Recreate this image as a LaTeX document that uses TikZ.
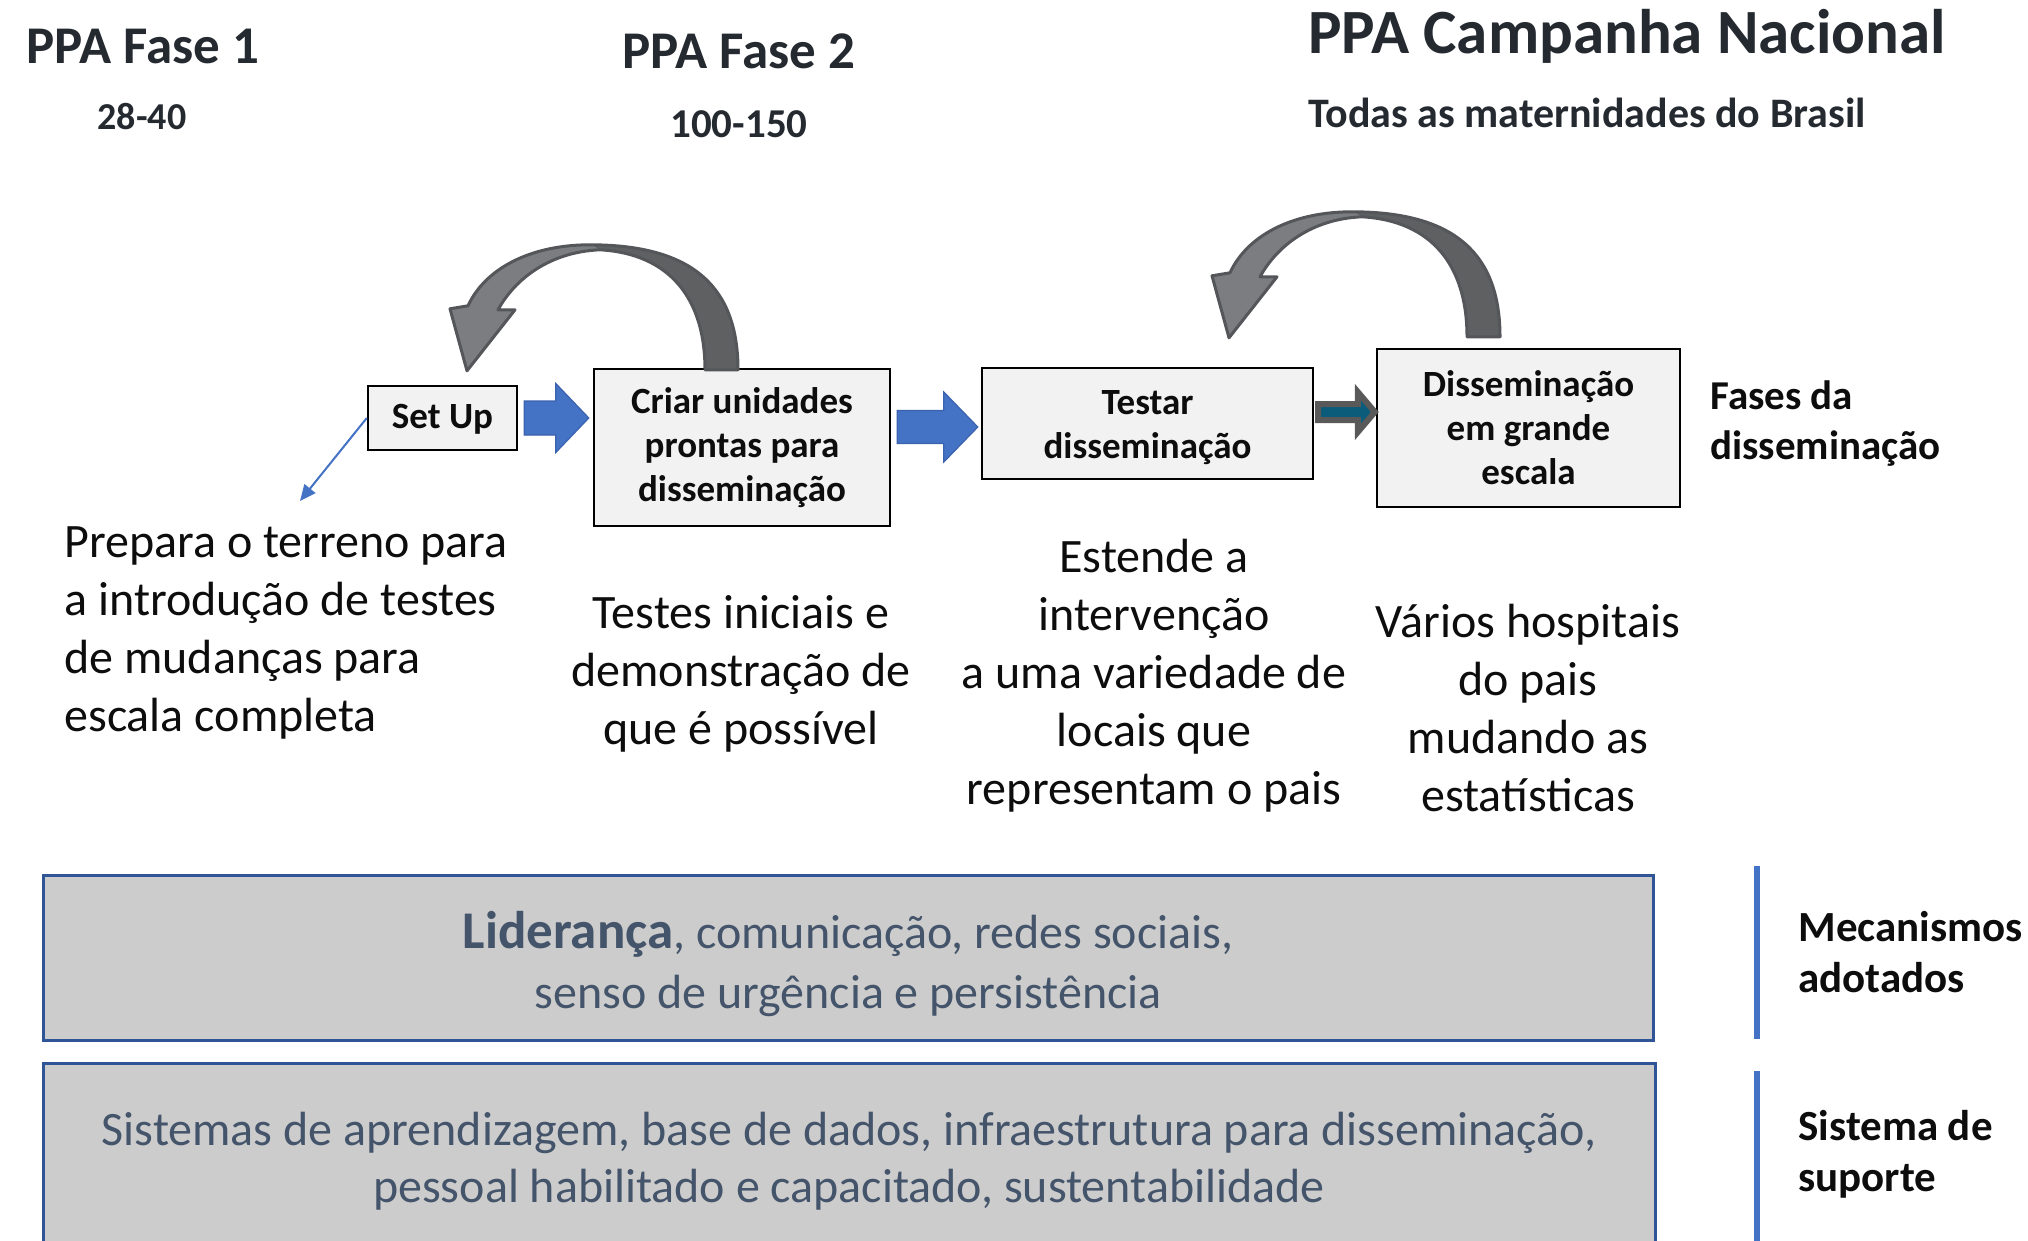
\documentclass[tikz,border=0pt]{standalone}
\usepackage{fontspec}
\setmainfont{Carlito}
\usetikzlibrary{calc,arrows.meta}
\definecolor{boxfill}{HTML}{F2F2F2}
\definecolor{hdr}{HTML}{252A31}
\definecolor{bodyc}{HTML}{0D0D0D}
\definecolor{blueA}{HTML}{4472C4}
\definecolor{blueB}{HTML}{2F5597}
\definecolor{blueC}{HTML}{3A62AE}
\definecolor{grayfill}{HTML}{CCCCCC}
\definecolor{graytext}{HTML}{44546A}
\definecolor{tealA}{HTML}{0A5C7A}
\definecolor{tealline}{HTML}{595959}
\definecolor{cdark}{HTML}{5F6062}
\definecolor{clight}{HTML}{7C7D80}
\definecolor{cline}{HTML}{55565A}
\newcommand\blkarrow[6]{%
  \path[#6] ($(#1)+(0,-#3)$) -- ($(#2)+(-#5,-#3)$) -- ($(#2)+(-#5,-#4)$) -- (#2)
    -- ($(#2)+(-#5,#4)$) -- ($(#2)+(-#5,#3)$) -- ($(#1)+(0,#3)$) -- cycle;}
\tikzset{
  curvarrow/.pic={
    \fill[cdark] (0,0) .. controls (0,-81) and (-43,-125) .. (-148,-125)
      -- (-138,-120) .. controls (-68,-116) and (-33,-71) .. (-33,0) -- cycle;
    \fill[clight] (-148,-125) .. controls (-208,-125) and (-253,-101) .. (-270,-64)
      -- (-288,-61) -- (-271,1) -- (-223,-60) -- (-240,-60)
      .. controls (-223,-91) and (-188,-118) .. (-138,-120) -- cycle;
    \draw[cline, line width=1.5pt, line join=round]
      (0,0) .. controls (0,-81) and (-43,-125) .. (-148,-125)
      .. controls (-208,-125) and (-253,-101) .. (-270,-64)
      -- (-288,-61) -- (-271,1) -- (-223,-60) -- (-240,-60)
      .. controls (-223,-91) and (-188,-118) .. (-138,-120)
      .. controls (-68,-116) and (-33,-71) .. (-33,0) -- cycle;
  },
  stepbox/.style={draw=black, line width=1.2pt, fill=boxfill, align=center,
    font=\fontsize{18.5pt}{22pt}\selectfont\bfseries, text=bodyc, inner sep=0pt},
  hdrtxt/.style={inner sep=0pt, text=hdr},
  bodytxt/.style={inner sep=0pt, text=bodyc},
  lbltxt/.style={inner sep=0pt, text=bodyc, align=left, anchor=base west},
  graybox/.style={fill=grayfill, draw=blueB, line width=1.5pt, text=graytext,
    align=center, inner sep=0pt},
  bluearrow/.style={fill=blueA, draw=blueC, line width=0.6pt, line join=miter},
  tealarrow/.style={fill=tealA, draw=tealline, line width=3pt, line join=miter},
}
\begin{document}
\begin{tikzpicture}[x=0.5pt,y=-0.5pt]
\useasboundingbox (0,0) rectangle (2028,1241);

% headers
\node[hdrtxt, anchor=base, font=\fontsize{26.5pt}{31pt}\selectfont\bfseries] (f1) at (143,64) {PPA Fase 1};
\node[hdrtxt, anchor=base, font=\fontsize{19pt}{23pt}\selectfont\bfseries] (f1n) at (142,130) {28-40};
\node[hdrtxt, anchor=base, font=\fontsize{26.5pt}{31pt}\selectfont\bfseries] (f2) at (739,69) {PPA Fase 2};
\node[hdrtxt, anchor=base, font=\fontsize{20.5pt}{24pt}\selectfont\bfseries] (f2n) at (739,138) {100-150};
\node[hdrtxt, anchor=base west, font=\fontsize{31.5pt}{37pt}\selectfont\bfseries] (camp) at (1308,54) {PPA Campanha Nacional};
\node[hdrtxt, anchor=base west, font=\fontsize{21pt}{25pt}\selectfont\bfseries] (todas) at (1308,128) {Todas as maternidades do Brasil};

% step boxes
\node[stepbox, minimum width=74.5pt, minimum height=32pt, text depth=1.5pt] (setup) at (442.5,418) {Set Up};
\node[stepbox, minimum width=148pt, minimum height=78.5pt] (criar) at (742,447.5) {Criar unidades\\prontas para\\disseminação};
\node[stepbox, minimum width=165.5pt, minimum height=55.5pt] (testar) at (1147.5,423.5) {\rule{0pt}{16pt}Testar\\disseminação};
\node[stepbox, minimum width=151.5pt, minimum height=79pt] (diss) at (1528.5,428) {Disseminação\\em grande\\escala};

% block arrows
\coordinate (a1s) at ($(setup.east)+(6,0)$);
\coordinate (a1e) at ($(a1s -| criar.west)+(-4,0)$);
\blkarrow{a1s}{a1e}{17}{34.5}{33}{bluearrow}
\coordinate (a2e) at ($(testar.west)+(-3,3.5)$);
\coordinate (a2s) at ($(a2e -| criar.east)+(6,0)$);
\blkarrow{a2s}{a2e}{16.5}{35}{34}{bluearrow}
\coordinate (a3s) at ($(testar.east)+(4,-11.5)$);
\coordinate (a3e) at ($(a3s -| diss.west)+(-1,0)$);
\blkarrow{a3s}{a3e}{8}{20}{17}{tealarrow}

% curved arrows
\pic at ($(criar.north)+(-4,2)$) {curvarrow};
\pic at ($(diss.north)+(-28.5,-11)$) {curvarrow};

% thin arrow
\coordinate (tipc) at (300,501);
\draw[blueA, line width=1pt, -{Triangle[length=8pt,width=7pt]}] (setup.west) -- (tipc);

% descriptions (anchor = baseline of last line)
\node[bodytxt, align=left, anchor=base west, font=\fontsize{24pt}{29pt}\selectfont] (d1) at (64,731) {Prepara o terreno para\\a introdução de testes\\de mudanças para\\escala completa};
\node[bodytxt, align=center, anchor=base, font=\fontsize{24pt}{29pt}\selectfont] (d2) at (741,744) {Testes iniciais e\\demonstração de\\que é possível};
\node[bodytxt, align=center, anchor=base, font=\fontsize{24pt}{29pt}\selectfont] (d3) at (1154,804) {Estende a\\intervenção\\a uma variedade de\\locais que\\representam o pais};
\node[bodytxt, align=center, anchor=base, font=\fontsize{24pt}{29pt}\selectfont] (d4) at (1528,811) {Vários hospitais\\do pais\\mudando as\\estatísticas};

% right labels
\node[lbltxt, font=\fontsize{20.5pt}{25pt}\selectfont\bfseries] (fases) at (1710,459) {Fases da\\disseminação};
\node[lbltxt, font=\fontsize{21.5pt}{25.5pt}\selectfont\bfseries] (mec) at (1798,992) {Mecanismos\\adotados};
\node[lbltxt, font=\fontsize{21.5pt}{25.5pt}\selectfont\bfseries] (sist) at (1798,1191) {Sistema de\\suporte};

% gray boxes
\node[graybox, minimum width=805pt, minimum height=82.5pt, font=\fontsize{24pt}{30pt}\selectfont] (lid) at (848,957.5) {\rule{0pt}{25pt}{\fontsize{26.5pt}{30pt}\selectfont\bfseries Liderança}, comunicação, redes sociais,\\senso de urgência e persistência};
\node[graybox, minimum width=806pt, minimum height=93.5pt, font=\fontsize{24pt}{28.5pt}\selectfont] (sis) at (849,1156.5) {\rule{0pt}{21pt}Sistemas de aprendizagem, base de dados, infraestrutura para disseminação,\\pessoal habilitado e capacitado, sustentabilidade};

% vertical bars
\coordinate (v1a) at (1757,866);
\coordinate (v1b) at (1757,1039);
\coordinate (v2a) at (1757,1071);
\coordinate (v2b) at (1757,1250);
\draw[blueA, line width=3pt] (v1a) -- (v1b);
\draw[blueA, line width=3pt] (v2a) -- (v2b);
\end{tikzpicture}
\end{document}
